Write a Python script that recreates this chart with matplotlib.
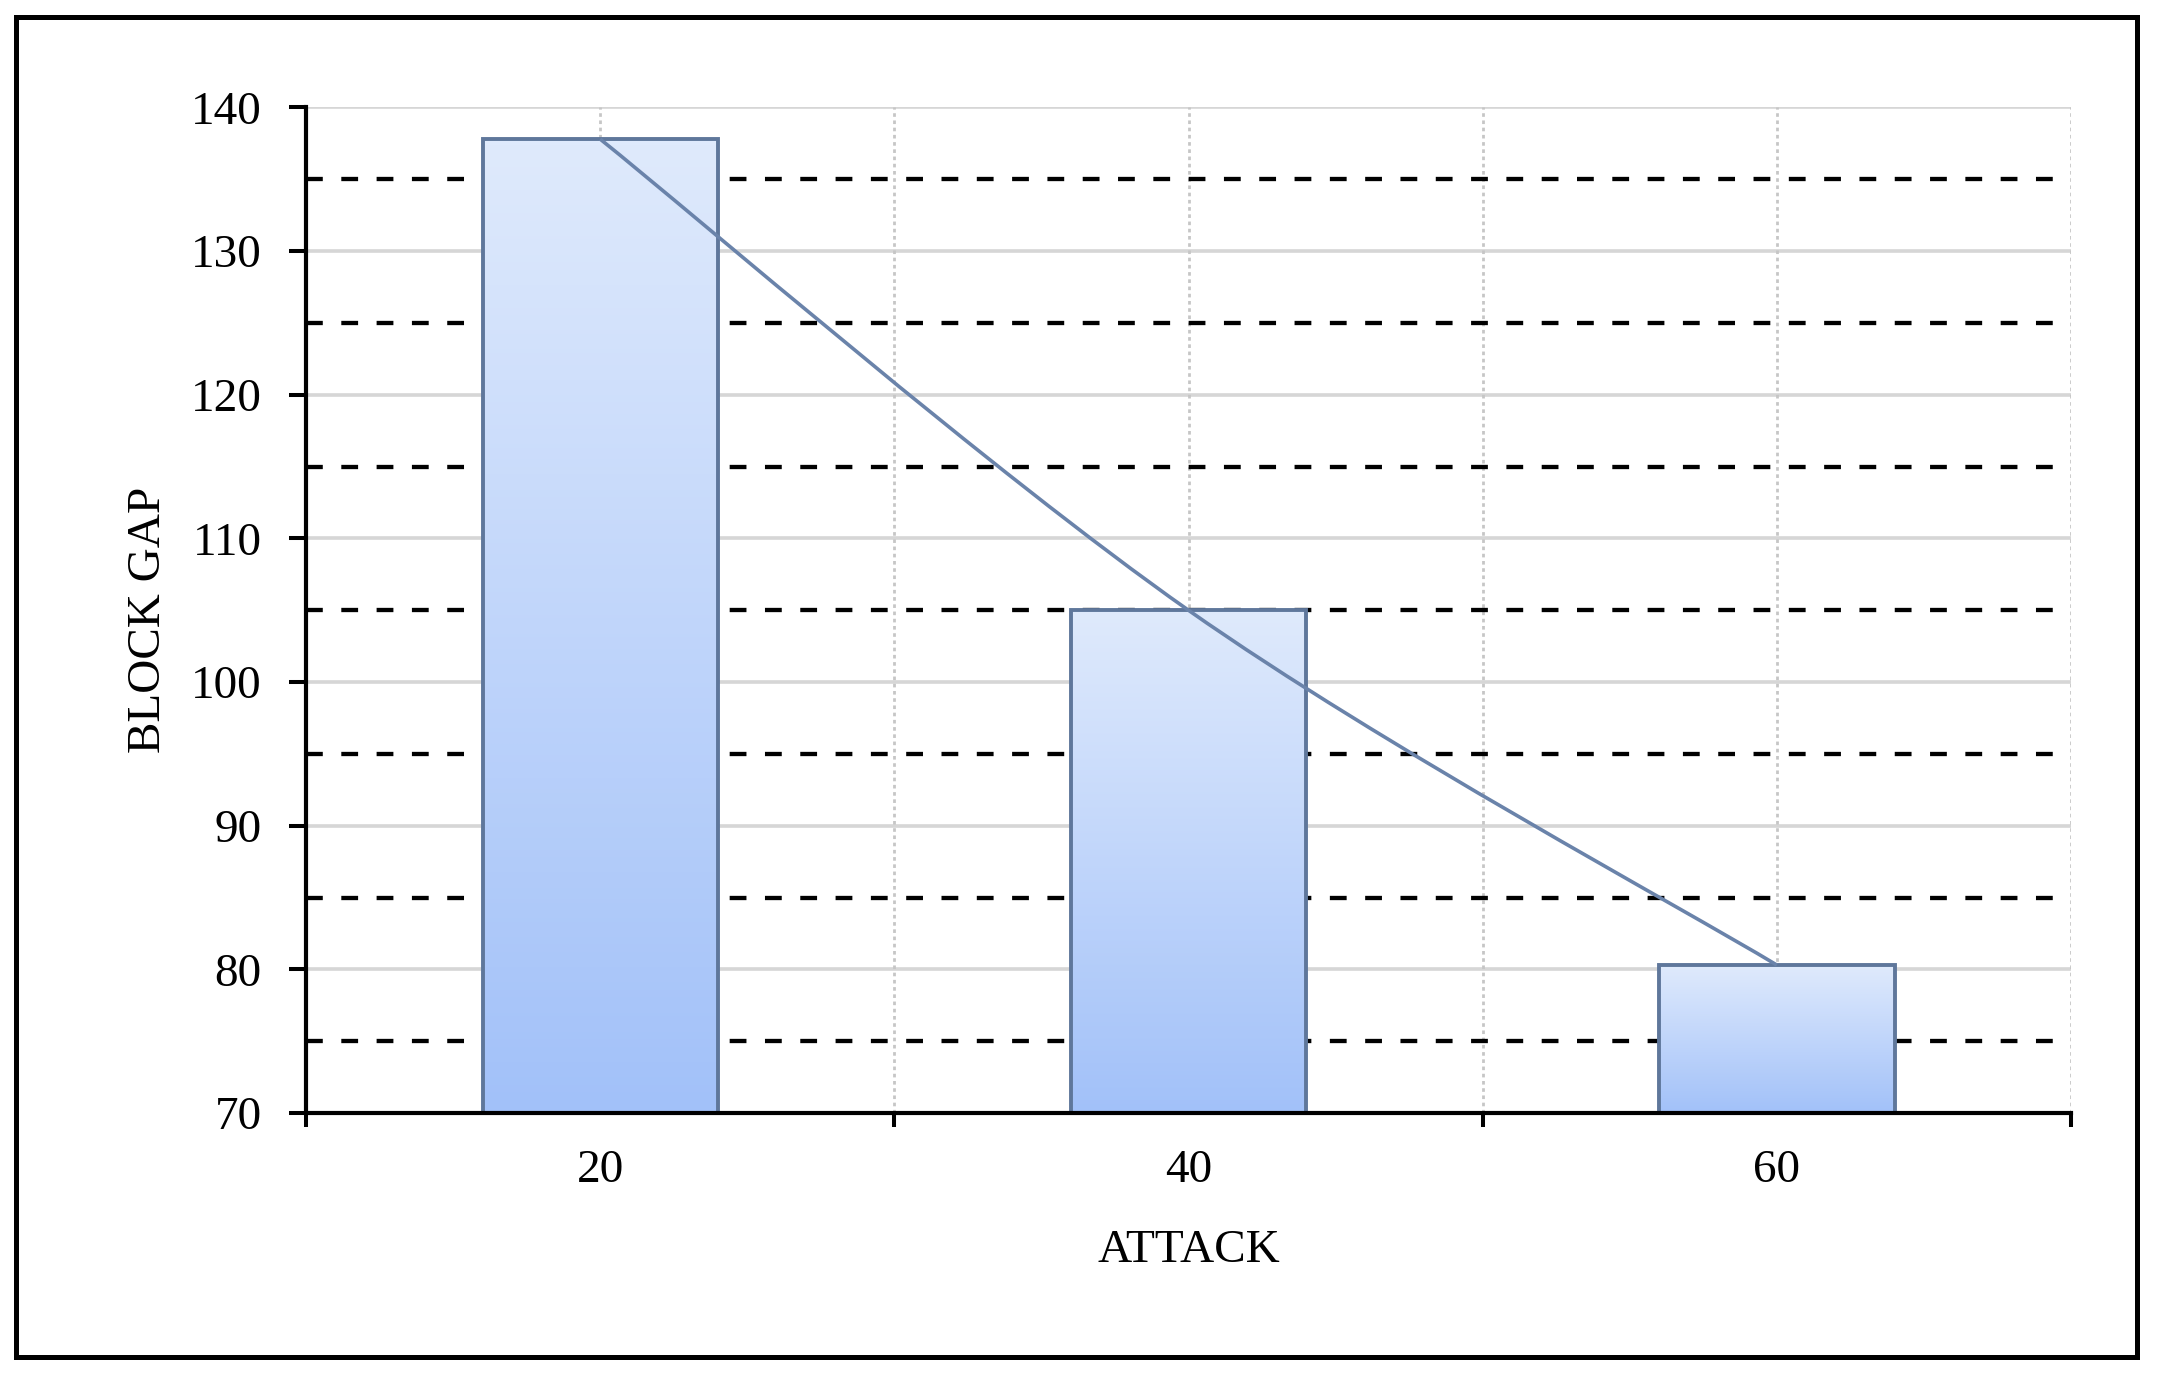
import numpy as np
import matplotlib
matplotlib.use("Agg")
import matplotlib.pyplot as plt
from matplotlib.path import Path
from matplotlib.patches import PathPatch, Rectangle
from matplotlib.colors import LinearSegmentedColormap

# ---- data ----
categories = ["20", "40", "60"]
block_gap = [137.8, 105.0, 80.3]
y_ticks = [70, 80, 90, 100, 110, 120, 130, 140]
y_half = [75, 85, 95, 105, 115, 125, 135]
x_label = "ATTACK"
y_label = "BLOCK GAP"

plt.rcParams['font.family'] = ['Liberation Serif', 'DejaVu Serif']

W, H = 2160, 1374
fig = plt.figure(figsize=(W / 100, H / 100), dpi=100)
fig.patch.set_facecolor('white')
ax = fig.add_axes([306 / W, 1 - 1113 / H, (2071 - 306) / W, (1113 - 107.5) / H])

x = np.arange(len(categories))
xmin, xmax = -0.5, len(categories) - 0.5
ymin, ymax = y_ticks[0], y_ticks[-1]

# ---- grid ----
for v in y_ticks:
    ax.axhline(v, color='#d6d6d6', lw=2.6, zorder=1)
for v in y_half:
    ax.axhline(v, color='black', lw=3.1, ls=(0, (3.9, 4.3)), zorder=1.5)
vlines = [i * 0.5 for i in range(2 * len(categories))]
for v in vlines:
    ax.axvline(v, color='#c6c6c6', lw=2.0, ls=(0, (1.3, 1.3)), zorder=1)

# ---- bars with gradient ----
bars = ax.bar(x, block_gap, width=0.4, facecolor='none', edgecolor='#5f779b',
              lw=2.8, zorder=3)
cmap = LinearSegmentedColormap.from_list('g', ['#a2c1f9', '#dfeafc'])
grad = np.linspace(0, 1, 256).reshape(-1, 1)
for b in bars:
    x0 = b.get_x()
    x1 = x0 + b.get_width()
    top = b.get_height()
    im = ax.imshow(grad, cmap=cmap, origin='lower', aspect='auto',
                   extent=(x0, x1, ymin, top), zorder=2, interpolation='bilinear')
    im.set_clip_path(b)

# ---- smoothed line through bar tops ----
pts = np.column_stack([x, block_gap]).astype(float)
n = len(pts)
verts = [pts[0]]
codes = [Path.MOVETO]
for i in range(n - 1):
    p0 = pts[max(i - 1, 0)]
    p1 = pts[i]
    p2 = pts[i + 1]
    p3 = pts[min(i + 2, n - 1)]
    c1 = p1 + (p2 - p0) / 6.0
    c2 = p2 - (p3 - p1) / 6.0
    verts += [c1, c2, p2]
    codes += [Path.CURVE4] * 3
ax.add_patch(PathPatch(Path(verts, codes), fill=False, edgecolor='#6a83aa',
                       lw=2.6, zorder=4))

ax.set_xlim(xmin, xmax)
ax.set_ylim(ymin, ymax)

# ---- spines & ticks ----
for s in ['top', 'right']:
    ax.spines[s].set_visible(False)
for s in ['left', 'bottom']:
    ax.spines[s].set_linewidth(3.0)
    ax.spines[s].set_color('black')
    ax.spines[s].set_zorder(5)

ax.set_yticks(y_ticks)
ax.set_yticklabels([str(v) for v in y_ticks])
ax.tick_params(axis='y', direction='out', length=12, width=2.9, pad=20,
               labelsize=34, colors='black')
ax.set_xticks(x)
ax.set_xticklabels(categories)
ax.tick_params(axis='x', which='major', length=0, pad=26, labelsize=34)
ax.set_xticks([c - 0.5 for c in x] + [xmax], minor=True)
ax.tick_params(axis='x', which='minor', direction='out', length=10, width=2.9)

# ---- axis titles ----
fig.text(((306 + 2071) / 2) / W, 1 - 1262 / H, x_label, ha='center',
         va='baseline', fontsize=34)
fig.text(160 / W, 1 - 620 / H, y_label, rotation=90, rotation_mode='anchor',
         ha='center', va='baseline', fontsize=34)

# ---- outer frame ----
fig.add_artist(Rectangle((16 / W, 1 - 1357 / H), (2137 - 16) / W, (1357 - 17) / H,
                         transform=fig.transFigure, fill=False, lw=3.6,
                         edgecolor='black'))

fig.savefig('out.png', dpi=100, facecolor='white')
